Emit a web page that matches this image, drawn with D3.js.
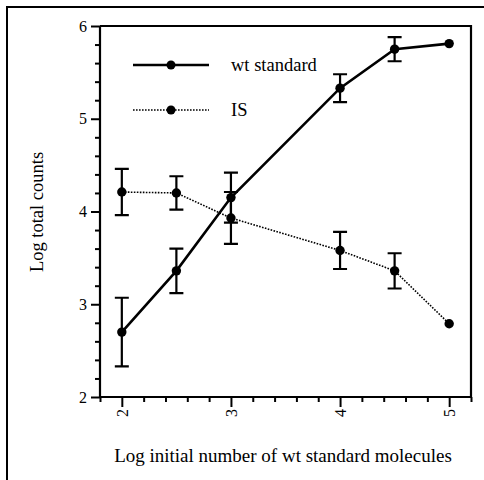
<!DOCTYPE html>
<html>
<head>
<meta charset="utf-8">
<script src="https://cdn.jsdelivr.net/npm/d3@7"></script>
<style>
  html, body { margin: 0; padding: 0; background: #fff; }
  svg { display: block; }
  svg text { font-family: "Liberation Serif", "DejaVu Serif", serif; fill: #000; }
</style>
</head>
<body>
<svg id="chart" width="484" height="480"></svg>
<script>
// ---- data ----
const xValues = [2, 2.5, 3, 4, 4.5, 5];
const wtMean  = [2.70, 3.36, 4.15, 5.33, 5.75, 5.81];
const wtErr   = [0.37, 0.24, 0.27, 0.15, 0.13, null];
const isMean  = [4.21, 4.20, 3.93, 3.58, 3.36, 2.79];
const isErr   = [0.25, 0.18, 0.28, 0.20, 0.19, null];
const seriesNames = ["wt standard", "IS"];
const xMajorTicks = [2, 3, 4, 5];
const xMinorTicks = [1.8, 2.2, 2.4, 2.6, 2.8, 3.2, 3.4, 3.6, 3.8, 4.2, 4.4, 4.6, 4.8, 5.2];
const yMajorTicks = [2, 3, 4, 5, 6];
const yMinorTicks = [2.2, 2.4, 2.6, 2.8, 3.2, 3.4, 3.6, 3.8, 4.2, 4.4, 4.6, 4.8, 5.2, 5.4, 5.6, 5.8];
const xTitle = "Log initial number of wt standard molecules";
const yTitle = "Log total counts";

// ---- layout ----
const FONT = "Liberation Serif";
const svg = d3.select("#chart");
const pLeft = 100, pRight = 471, pTop = 26, pBottom = 397;
const x = d3.scaleLinear().domain([1.8, 5.2]).range([pLeft, pRight]);
const y = d3.scaleLinear().domain([2, 6]).range([pBottom, pTop]);

// outer figure frame
svg.append("rect").attr("x", 7).attr("y", 7).attr("width", 520).attr("height", 520)
  .attr("fill", "none").attr("stroke", "#000").attr("stroke-width", 2);

// plot box (top and right)
svg.append("path")
  .attr("d", `M${pLeft},${pTop}H${pRight}V${pBottom}`)
  .attr("fill", "none").attr("stroke", "#000").attr("stroke-width", 2.2);

// y axis
const gyMinor = svg.append("g").attr("transform", `translate(${pLeft},0)`)
  .call(d3.axisLeft(y).tickValues(yMinorTicks).tickSize(5).tickFormat(""));
const gy = svg.append("g").attr("transform", `translate(${pLeft},0)`)
  .call(d3.axisLeft(y).tickValues(yMajorTicks).tickSize(9).tickPadding(4).tickFormat(d3.format("d")));
// x axis
const gxMinor = svg.append("g").attr("transform", `translate(0,${pBottom})`)
  .call(d3.axisBottom(x).tickValues(xMinorTicks).tickSize(5).tickFormat(""));
const gx = svg.append("g").attr("transform", `translate(0,${pBottom})`)
  .call(d3.axisBottom(x).tickValues(xMajorTicks).tickSize(10).tickFormat(d3.format("d")));

[gy, gyMinor, gx, gxMinor].forEach(g => {
  g.attr("font-family", FONT).attr("font-size", 16);
  g.selectAll(".domain").attr("stroke", "#000").attr("stroke-width", 2.2);
  g.selectAll(".tick line").attr("stroke", "#000").attr("stroke-width", 2);
});
gyMinor.select(".domain").remove();
gxMinor.select(".domain").remove();
gy.select(".domain").attr("d", `M0,${pBottom}V${pTop}`);
gx.select(".domain").attr("d", `M${pLeft},0H${pRight}`);

gy.selectAll(".tick text").style("font-family", FONT).style("font-size", "16px");
gx.selectAll(".tick text")
  .style("font-family", FONT).style("font-size", "16px")
  .attr("transform", "rotate(-90)")
  .attr("text-anchor", "end")
  .attr("x", -12).attr("y", 0).attr("dy", "0.35em");

// axis titles
svg.append("text").attr("x", 283).attr("y", 462)
  .attr("text-anchor", "middle").style("font-family", FONT).style("font-size", "19px").text(xTitle);
svg.append("text")
  .attr("transform", `translate(43,212) rotate(-90)`)
  .attr("text-anchor", "middle").style("font-family", FONT).style("font-size", "18.5px").text(yTitle);

// series
const series = [
  { name: seriesNames[0], mean: wtMean, err: wtErr, dash: null, width: 2.6 },
  { name: seriesNames[1], mean: isMean, err: isErr, dash: "1.6,1.4", width: 1.6 }
];

const line = d3.line().x(d => x(d.x)).y(d => y(d.y));
const capW = 7;

series.forEach(s => {
  const pts = xValues.map((xv, i) => ({ x: xv, y: s.mean[i], e: s.err[i] }));
  svg.append("path").datum(pts).attr("d", line)
    .attr("fill", "none").attr("stroke", "#000").attr("stroke-width", s.width)
    .attr("stroke-dasharray", s.dash);
  const eb = svg.append("g");
  pts.filter(p => p.e != null).forEach(p => {
    const cx = x(p.x), y1 = y(p.y + p.e), y2 = y(p.y - p.e);
    eb.append("path")
      .attr("d", `M${cx},${y1}V${y2}M${cx - capW},${y1}H${cx + capW}M${cx - capW},${y2}H${cx + capW}`)
      .attr("fill", "none").attr("stroke", "#000").attr("stroke-width", 2.2);
  });
  svg.append("g").selectAll("circle").data(pts).join("circle")
    .attr("cx", d => x(d.x)).attr("cy", d => y(d.y)).attr("r", 4.7).attr("fill", "#000");
});

// legend
const legX1 = 133, legX2 = 209, legMid = 171, legText = 231;
const legY = [65, 110];
series.forEach((s, i) => {
  svg.append("line").attr("x1", legX1).attr("x2", legX2).attr("y1", legY[i]).attr("y2", legY[i])
    .attr("stroke", "#000").attr("stroke-width", s.width).attr("stroke-dasharray", s.dash);
  svg.append("circle").attr("cx", legMid).attr("cy", legY[i]).attr("r", 4.5).attr("fill", "#000");
  svg.append("text").attr("x", legText).attr("y", legY[i] + 6)
    .style("font-family", FONT).style("font-size", "18.5px").text(s.name);
});
</script>
</body>
</html>
